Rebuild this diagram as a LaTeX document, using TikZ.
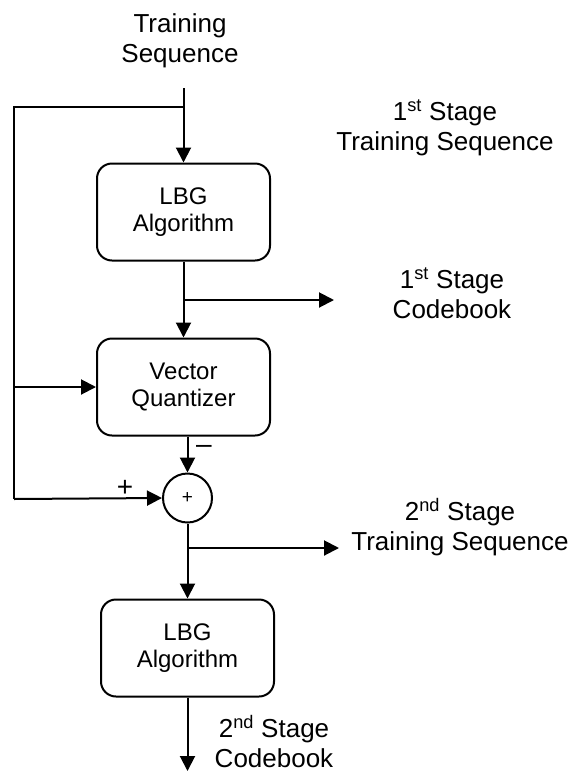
\documentclass[tikz,border=0pt]{standalone}
\usepackage{fontspec}
\setmainfont{Liberation Sans}
\usepackage{tikz}
\usetikzlibrary{positioning,calc,arrows.meta}

\begin{document}
\begin{tikzpicture}[x=1pt,y=-1pt,
    block/.style={draw,rounded corners=15pt,line width=2pt,minimum width=173pt,minimum height=97pt,
        align=center,inner sep=0pt,font=\fontsize{24}{27}\selectfont},
    sumnode/.style={draw,circle,line width=2pt,minimum size=49pt,inner sep=0pt,font=\fontsize{19}{19}\selectfont},
    lbl/.style={align=center,inner sep=0pt,font=\fontsize{26}{30}\selectfont},
    sgn/.style={inner sep=0pt,font=\fontsize{28}{28}\selectfont},
    wire/.style={line width=2pt},
    flow/.style={line width=2pt,-{Triangle[length=15pt,width=15pt]}}]
    \useasboundingbox (0,0) rectangle (573,772);

    % Blocks
    \node[block] (lbgA) at (183.5,212) {LBG\\Algorithm};
    \node[block] (vq) at (183.5,387) {Vector\\Quantizer};
    \node[sumnode] (sum) at (187.5,498) {+};
    \node[block] (lbgB) at (187.5,648) {LBG\\Algorithm};

    % Labels
    \node[lbl] (train) at (180,41) {Training\\Sequence};
    \node[lbl] (ts1) at (445,128) {1\textsuperscript{st} Stage\\Training Sequence};
    \node[lbl] (cb1) at (452,293) {1\textsuperscript{st} Stage\\Codebook};
    \node[lbl] (ts2) at (460,527) {2\textsuperscript{nd} Stage\\Training Sequence};
    \node[lbl] (cb2) at (274,742) {2\textsuperscript{nd} Stage\\Codebook};
    \node[sgn] (minus) at (204,449) {\textendash};
    \node[sgn] (plus) at (125,488) {+};

    % Points on the wires
    \coordinate (in) at (183.5,88);
    \coordinate (jA) at (183.5,107);
    \coordinate (cA) at (14,107);
    \coordinate (cB) at (14,499);
    \coordinate (jB) at (183.5,300);
    \coordinate (outA) at (334,300);
    \coordinate (jC) at (187.5,548);
    \coordinate (outB) at (339,548);
    \coordinate (outC) at (187.5,771);

    % Connections
    \draw[flow] (in) -- (lbgA);
    \draw[wire] (jA) -- (cA) -- (cB);
    \draw[flow] (cB) -- (sum.west);
    \draw[flow] (cA |- vq) -- (vq.west);
    \draw[flow] (lbgA) -- (vq);
    \draw[flow] (jB) -- (outA);
    \draw[flow] (vq.south -| sum) -- (sum);
    \draw[flow] (sum) -- (lbgB);
    \draw[flow] (jC) -- (outB);
    \draw[flow] (lbgB) -- (outC);
\end{tikzpicture}
\end{document}
